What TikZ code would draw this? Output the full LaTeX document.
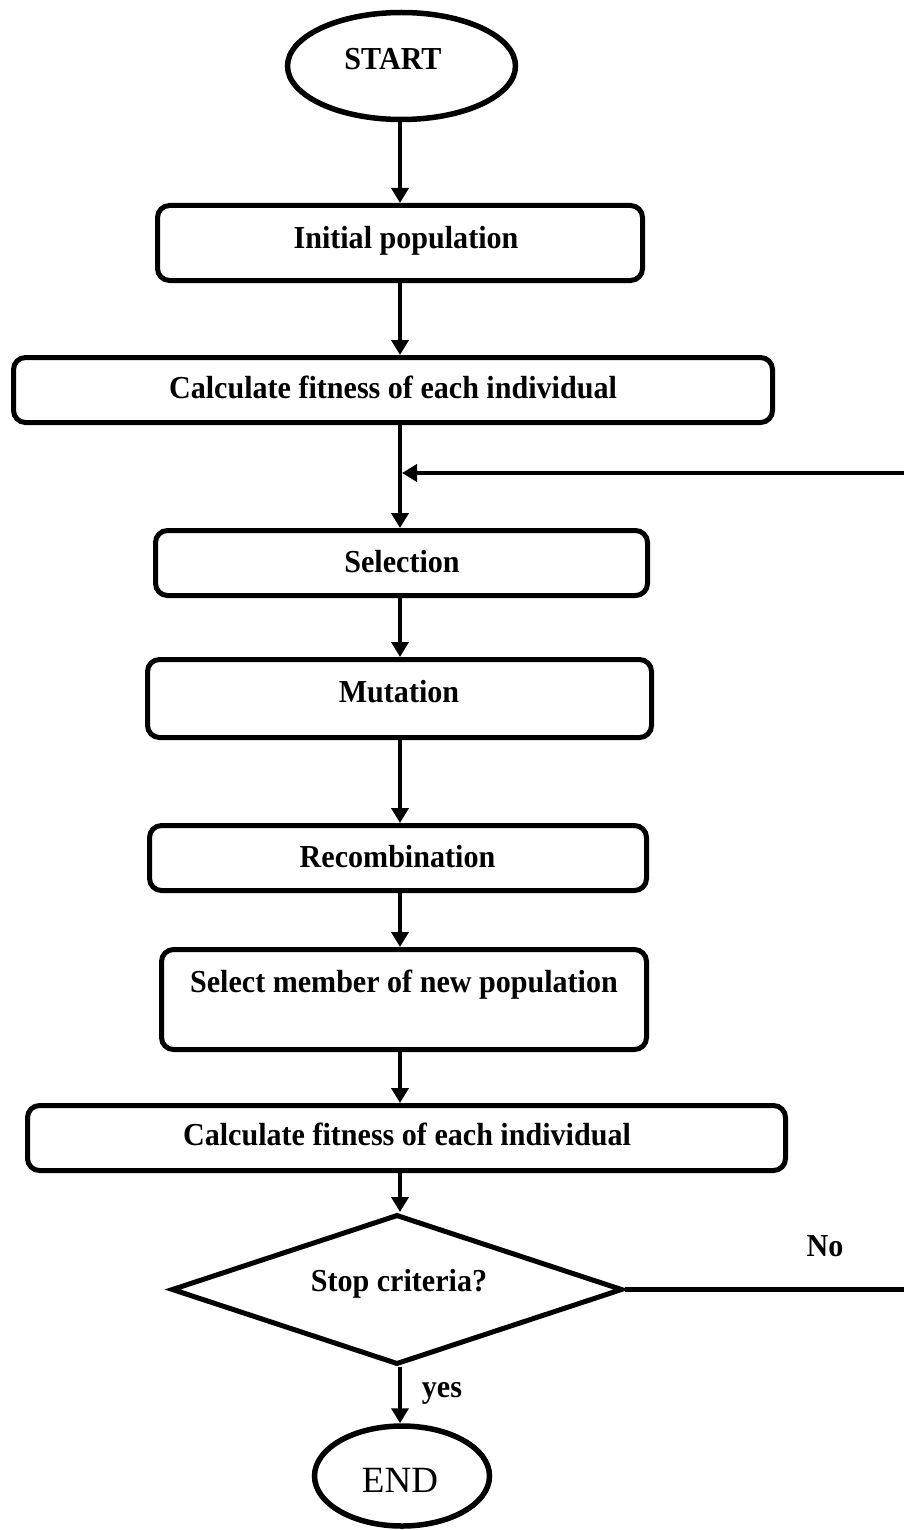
\documentclass[tikz,border=0pt]{standalone}
\usepackage{fontspec}
\setmainfont{Liberation Serif}
\newfontfamily\tallserif{Liberation Serif}[FakeStretch=0.94]
\usetikzlibrary{arrows.meta,shapes.geometric}
\tikzset{
  boxshape/.style={draw=black,line width=5pt,rounded corners=12pt,inner sep=0pt},
  termshape/.style={draw=black,line width=5.5pt,ellipse,inner sep=0pt},
  decshape/.style={draw=black,line width=5pt,diamond,inner sep=0pt},
  lbl/.style={anchor=base,inner sep=0pt,font=\tallserif\fontsize{32}{38}\selectfont\bfseries},
  endlbl/.style={anchor=base,inner sep=0pt,font=\fontsize{37}{44}\selectfont},
  arr/.style={line width=4.5pt,-{Triangle[width=17pt,length=15pt]}},
  plainline/.style={line width=4.5pt}
}
\begin{document}
\begin{tikzpicture}[x=1pt,y=-1pt]
\useasboundingbox (0,0) rectangle (904,1530);
\coordinate (spine) at (400,0);
% shapes
\node[termshape,minimum width=228pt,minimum height=107pt] (start) at (401.5,66) {};
\node[boxshape,minimum width=485pt,minimum height=75pt] (init) at (400,243) {};
\node[boxshape,minimum width=759pt,minimum height=65pt] (calc1) at (393,390) {};
\node[boxshape,minimum width=492pt,minimum height=65pt] (sel) at (401.5,563) {};
\node[boxshape,minimum width=504pt,minimum height=78pt] (mut) at (399.5,698.5) {};
\node[boxshape,minimum width=497pt,minimum height=65pt] (rec) at (398,858) {};
\node[boxshape,minimum width=485pt,minimum height=100pt] (mem) at (404,999.5) {};
\node[boxshape,minimum width=758pt,minimum height=65pt] (calc2) at (406.5,1138) {};
\node[decshape,minimum width=451pt,minimum height=150pt] (dia) at (397,1289.5) {};
\node[termshape,minimum width=175pt,minimum height=100pt] (end) at (402,1476) {};
% texts
\node[lbl] (tstart) at (393,70) {START};
\node[lbl] (tinit) at (406,249) {Initial population};
\node[lbl] (tcalc1) at (393,398) {Calculate fitness of each individual};
\node[lbl] (tsel) at (402,572) {Selection};
\node[lbl] (tmut) at (399,702) {Mutation};
\node[lbl] (trec) at (397.5,867) {Recombination};
\node[lbl] (tmem) at (404,992) {Select member of new population};
\node[lbl] (tcalc2) at (407,1145) {Calculate fitness of each individual};
\node[lbl] (tdia) at (399,1291) {Stop criteria?};
\node[lbl] (tyes) at (442,1397) {yes};
\node[lbl] (tno) at (825,1256) {No};
\node[endlbl] (tend) at (400,1492) {END};
% connectors
\draw[arr] (start.south -| spine) -- (init.north -| spine);
\draw[arr] (init.south -| spine) -- (calc1.north -| spine);
\draw[arr] (calc1.south -| spine) -- (sel.north -| spine);
\draw[arr] (sel.south -| spine) -- (mut.north -| spine);
\draw[arr] (mut.south -| spine) -- (rec.north -| spine);
\draw[arr] (rec.south -| spine) -- (mem.north -| spine);
\draw[arr] (mem.south -| spine) -- (calc2.north -| spine);
\draw[arr] (calc2.south -| spine) -- (dia.north -| spine);
\draw[arr] (dia.south -| spine) -- (end.north -| spine);
\coordinate (fbin) at (904,473);
\draw[arr,shorten >=2pt] (fbin) -- (fbin -| spine);
\coordinate (noout) at (904,1289.5);
\draw[plainline] (dia.east) -- (noout);
\end{tikzpicture}
\end{document}
